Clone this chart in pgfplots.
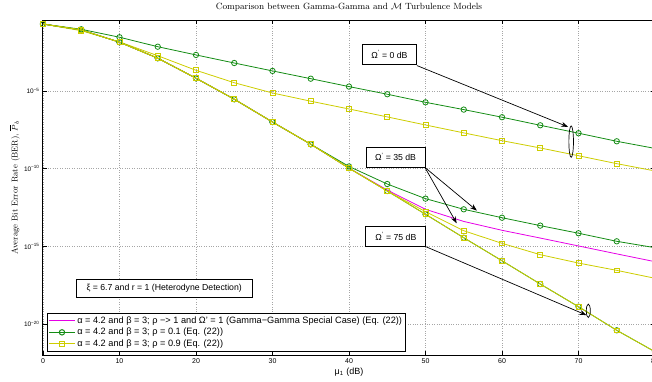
\documentclass[border=0pt]{standalone}
\usepackage{fontspec}
\setsansfont{Liberation Sans}
\usepackage{pgfplots}
\pgfplotsset{compat=1.18}
\usetikzlibrary{arrows.meta}
\definecolor{mgreen}{RGB}{20,140,20}
\definecolor{myellow}{RGB}{205,205,0}
\definecolor{mmag}{RGB}{230,0,230}
\begin{document}
\begin{tikzpicture}
\path[use as bounding box] (-43pt,-26pt) rectangle (609pt,355pt);
\begin{axis}[
  at={(0pt,0pt)}, anchor=south west,
  scale only axis, width=612pt, height=335pt,
  ymode=log, log basis y=10,
  xmin=0, xmax=80, ymin=1e-22, ymax=3.7e-1,
  xtick={0,10,20,30,40,50,60,70,80},
  ytick={1e-20,1e-15,1e-10,1e-5},
  yticklabels={10\textsuperscript{−20},10\textsuperscript{−15},10\textsuperscript{−10},10\textsuperscript{−5}},
  yminorticks=false,
  major tick length=4pt,
  axis line style={line width=1pt},
  tick style={black, line width=0.6pt},
  grid=major, grid style={dotted, gray!70, line width=0.6pt},
  ticklabel style={font=\sffamily\fontsize{6.5}{7}\selectfont},
  xticklabel style={font=\sffamily\fontsize{7}{8}\selectfont},
  /pgf/number format/assume math mode=true,
  title={Comparison between Gamma-Gamma and $\mathcal{M}$ Turbulence Models},
  title style={font=\fontsize{9}{10}\selectfont, at={(axis description cs:0.5,1.021)}, anchor=center},
  xlabel={μ\textsubscript{1} (dB)},
  xlabel style={font=\sffamily\fontsize{9}{10}\selectfont, at={(axis description cs:0.5,-0.051)}, anchor=center},
  ylabel={Average Bit Error Rate (BER), $\overline{P}_b$},
  ylabel style={font=\fontsize{8.5}{10}\selectfont, at={(axis description cs:-0.046,0.5)}, anchor=center},
  legend style={at={(axis description cs:0.006,0.009)}, anchor=south west, line width=1pt, fill=white,
    font=\sffamily\fontsize{9.2}{10}\selectfont, inner sep=1.5pt, row sep=-0.6pt},
  legend cell align=left,
  legend image code/.code={\draw[line width=1pt,mark repeat=2,mark phase=2,#1] plot coordinates {(0cm,0cm) (0.45cm,0cm) (0.9cm,0cm)};},
  every axis plot/.append style={line width=0.8pt},
]
% Gamma-Gamma special case
\addplot[color=mmag, mark=none] coordinates {
(0,2.04e-1)(5,8.51e-2)(10,1.38e-2)(15,1.29e-3)(20,6.61e-5)(25,2.95e-6)(30,1.00e-7)(35,3.72e-9)
(40,1.07e-10)(45,4.17e-12)(50,2.40e-13)(55,3.98e-14)(60,1.07e-14)(65,3.39e-15)(70,1.05e-15)(75,3.24e-16)(80,1.02e-16)};
\addlegendentry{α = 4.2 and β = 3; ρ −> 1 and Ω' = 1 (Gamma−Gamma Special Case) (Eq. (22))}
% rho = 0.1, Omega' = 0 dB
\addplot[color=mgreen, mark=o, mark size=2.7pt] coordinates {
(0,2.04e-1)(5,9.33e-2)(10,2.88e-2)(15,7.08e-3)(20,2.09e-3)(25,6.31e-4)(30,1.95e-4)(35,6.17e-5)
(40,1.91e-5)(45,6.17e-6)(50,1.86e-6)(55,6.31e-7)(60,2.04e-7)(65,6.17e-8)(70,1.91e-8)(75,5.75e-9)(80,2.00e-9)};
\addlegendentry{α = 4.2 and β = 3; ρ = 0.1 (Eq. (22))}
% rho = 0.9, Omega' = 0 dB
\addplot[color=myellow, mark=square, mark size=2.4pt] coordinates {
(0,2.04e-1)(5,7.59e-2)(10,1.45e-2)(15,1.86e-3)(20,2.14e-4)(25,3.39e-5)(30,7.41e-6)(35,2.19e-6)
(40,6.92e-7)(45,2.14e-7)(50,6.46e-8)(55,2.00e-8)(60,6.31e-9)(65,2.14e-9)(70,6.76e-10)(75,2.09e-10)(80,7.08e-11)};
\addlegendentry{α = 4.2 and β = 3; ρ = 0.9 (Eq. (22))}
% rho = 0.1, Omega' = 35 dB
\addplot[color=mgreen, mark=o, mark size=2.7pt, forget plot] coordinates {
(0,2.04e-1)(5,8.51e-2)(10,1.38e-2)(15,1.29e-3)(20,6.61e-5)(25,2.95e-6)(30,1.00e-7)(35,3.72e-9)
(40,1.38e-10)(45,1.02e-11)(50,1.17e-12)(55,2.40e-13)(60,6.92e-14)(65,2.14e-14)(70,6.92e-15)(75,2.09e-15)(80,8.13e-16)};
% rho = 0.1, Omega' = 75 dB
\addplot[color=mgreen, mark=o, mark size=2.7pt, forget plot] coordinates {
(0,2.04e-1)(5,8.51e-2)(10,1.38e-2)(15,1.29e-3)(20,6.61e-5)(25,2.95e-6)(30,1.00e-7)(35,3.72e-9)
(40,1.07e-10)(45,3.63e-12)(50,1.15e-13)(55,3.55e-15)(60,1.17e-16)(65,3.72e-18)(70,1.29e-19)(75,3.89e-21)(80,1.62e-22)};
% rho = 0.9, Omega' = 35 dB
\addplot[color=myellow, mark=square, mark size=2.4pt, forget plot] coordinates {
(0,2.04e-1)(5,8.51e-2)(10,1.38e-2)(15,1.29e-3)(20,6.61e-5)(25,2.95e-6)(30,1.00e-7)(35,3.72e-9)
(40,1.07e-10)(45,3.63e-12)(50,1.70e-13)(55,1.00e-14)(60,1.55e-15)(65,2.88e-16)(70,8.32e-17)(75,2.82e-17)(80,8.71e-18)};
% rho = 0.9, Omega' = 75 dB
\addplot[color=myellow, mark=square, mark size=2.4pt, forget plot] coordinates {
(0,2.04e-1)(5,8.51e-2)(10,1.38e-2)(15,1.29e-3)(20,6.61e-5)(25,2.95e-6)(30,1.00e-7)(35,3.72e-9)
(40,1.07e-10)(45,3.63e-12)(50,1.15e-13)(55,3.55e-15)(60,1.17e-16)(65,3.72e-18)(70,1.29e-19)(75,3.89e-21)(80,1.62e-22)};
% annotations
\node[draw=black, line width=0.9pt, fill=white, font=\sffamily\fontsize{8.7}{10}\selectfont, minimum width=54pt, minimum height=20pt, inner sep=1pt]
  at (rel axis cs:0.566,0.896) {Ω\textsuperscript{'} = 0 dB};
\draw[line width=0.7pt, -{Stealth[length=7pt,width=5pt]}] (rel axis cs:0.611,0.864) -- (rel axis cs:0.858,0.681);
\draw[line width=0.7pt] (rel axis cs:0.863,0.637) ellipse [x radius=2.3pt, y radius=15.7pt];
\node[draw=black, line width=0.9pt, fill=white, font=\sffamily\fontsize{8.7}{10}\selectfont, minimum width=59pt, minimum height=20pt, inner sep=1pt]
  at (rel axis cs:0.576,0.591) {Ω\textsuperscript{'} = 35 dB};
\draw[line width=0.7pt, -{Stealth[length=7pt,width=5pt]}] (rel axis cs:0.624,0.560) -- (rel axis cs:0.709,0.431);
\draw[line width=0.7pt, -{Stealth[length=7pt,width=5pt]}] (rel axis cs:0.624,0.560) -- (rel axis cs:0.676,0.393);
\node[draw=black, line width=0.9pt, fill=white, font=\sffamily\fontsize{8.7}{10}\selectfont, minimum width=60pt, minimum height=20pt, inner sep=1pt]
  at (rel axis cs:0.5765,0.355) {Ω\textsuperscript{'} = 75 dB};
\draw[line width=0.7pt, -{Stealth[length=7pt,width=5pt]}] (rel axis cs:0.626,0.323) -- (rel axis cs:0.888,0.119);
\draw[line width=0.7pt] (rel axis cs:0.891,0.132) ellipse [x radius=2pt, y radius=6.7pt];
\node[draw=black, line width=0.9pt, fill=white, font=\sffamily\fontsize{8.7}{10}\selectfont, minimum width=176pt, minimum height=18pt, inner sep=1pt]
  at (rel axis cs:0.198,0.2) {ξ = 6.7 and r = 1 (Heterodyne Detection)};
\end{axis}
\end{tikzpicture}
\end{document}
